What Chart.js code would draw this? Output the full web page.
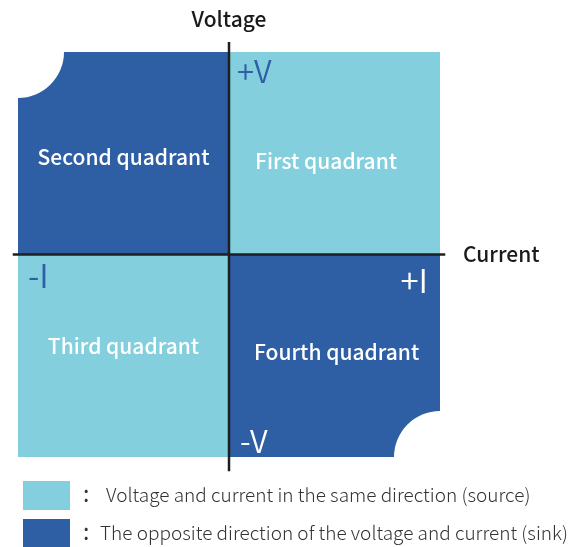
<!DOCTYPE html>
<html lang="en">
<head>
<meta charset="UTF-8">
<title>Four quadrants</title>
<script src="https://cdn.jsdelivr.net/npm/chart.js@4.4.0/dist/chart.umd.min.js"></script>
<style>
  body { margin: 0; background: #fff; }
</style>
</head>
<body>
<canvas id="quadChart" width="582" height="547"></canvas>
<script>
// quadrant data: sign of current (x) and voltage (y)
const quadrantNames = ['First quadrant', 'Second quadrant', 'Third quadrant', 'Fourth quadrant'];
const currentSign = [1, -1, -1, 1];
const voltageSign = [1, 1, -1, -1];
const axisTitles = ['Current', 'Voltage'];
const poleLabels = ['+V', '-V', '-I', '+I'];
const legendTexts = [
  'Voltage and current in the same direction (source)',
  'The opposite direction of the voltage and current (sink)'
];
// how far the axis lines run past the quadrants (in axis units)
const vAxisEnds = [-1.07, 1.05];
const hAxisEnds = [-1.025, 1.025];
// corners that are cut out
const cutCorners = [[-1, 1], [1, -1]];

const LIGHT = '#83CFDD';
const DARK = '#2E5EA4';
const FONT = '"Noto Sans CJK SC", "Noto Sans", sans-serif';

const datasets = [];

datasets.push({
  type: 'line',
  data: vAxisEnds.map(v => ({x: 0, y: v})),
  borderColor: '#1f1f1f',
  borderWidth: 2.5,
  pointRadius: 0,
  fill: false,
  clip: false,
  order: -3
});
datasets.push({
  type: 'line',
  data: hAxisEnds.map(v => ({x: v, y: 0})),
  borderColor: '#1f1f1f',
  borderWidth: 2.5,
  pointRadius: 0,
  fill: false,
  clip: false,
  order: -3
});

quadrantNames.forEach((name, i) => {
  const same = currentSign[i] * voltageSign[i] > 0;
  datasets.push({
    type: 'line',
    label: name,
    data: [{x: 0, y: voltageSign[i]}, {x: currentSign[i], y: voltageSign[i]}],
    borderWidth: 0,
    borderColor: 'rgba(0,0,0,0)',
    backgroundColor: same ? LIGHT : DARK,
    pointRadius: 0,
    fill: 'origin',
    order: 1
  });
});

// white quarter circles in two corners, clipped to the plot area
const cornerPlugin = {
  id: 'cornerCut',
  afterDatasetsDraw(chart) {
    const ctx = chart.ctx;
    const a = chart.chartArea;
    ctx.save();
    ctx.beginPath();
    ctx.rect(a.left, a.top, a.right - a.left, a.bottom - a.top);
    ctx.clip();
    ctx.fillStyle = '#fff';
    cutCorners.forEach(c => {
      ctx.beginPath();
      ctx.arc(chart.scales.x.getPixelForValue(c[0]), chart.scales.y.getPixelForValue(c[1]), 46, 0, Math.PI * 2);
      ctx.fill();
    });
    ctx.restore();
  }
};

const textPlugin = {
  id: 'quadText',
  afterDraw(chart) {
    const ctx = chart.ctx;
    const xs = chart.scales.x, ys = chart.scales.y;
    const px = v => xs.getPixelForValue(v);
    const py = v => ys.getPixelForValue(v);
    ctx.save();
    ctx.textBaseline = 'middle';

    // axis titles
    ctx.fillStyle = '#1a1a1a';
    ctx.font = '500 21px ' + FONT;
    ctx.textAlign = 'center';
    ctx.fillText(axisTitles[1], px(0), 19);
    ctx.textAlign = 'left';
    ctx.fillText(axisTitles[0], 463, py(0));

    // quadrant names
    ctx.fillStyle = '#fff';
    ctx.font = '500 21px ' + FONT;
    ctx.textAlign = 'center';
    const offs = [[0.46, 0.46], [-0.5, 0.48], [-0.5, -0.45], [0.51, -0.48]];
    quadrantNames.forEach((name, i) => {
      ctx.fillText(name, px(offs[i][0]), py(offs[i][1]));
    });

    // pole labels
    ctx.textAlign = 'left';
    ctx.font = '350 31px ' + FONT;
    ctx.fillStyle = DARK;
    ctx.fillText(poleLabels[0], px(0) + 8, py(1) + 19);
    ctx.fillStyle = '#fff';
    ctx.fillText(poleLabels[1], px(0) + 11, py(-1) - 16);
    ctx.font = '350 33px ' + FONT;
    ctx.fillStyle = DARK;
    ctx.fillText(poleLabels[2], px(-1) + 10, py(0) + 21);
    ctx.fillStyle = '#fff';
    ctx.textAlign = 'right';
    ctx.fillText(poleLabels[3], px(1) - 12, py(0) + 26);

    // legend
    const boxColors = [LIGHT, DARK];
    const boxTop = [481, 519];
    const textLeft = [106, 100];
    ctx.textAlign = 'left';
    legendTexts.forEach((t, i) => {
      ctx.fillStyle = boxColors[i];
      ctx.fillRect(23, boxTop[i], 47, 29);
      ctx.fillStyle = '#333';
      ctx.font = '23px ' + FONT;
      ctx.fillText(':', 83, boxTop[i] + 12);
      ctx.font = '300 19px ' + FONT;
      ctx.fillText(t, textLeft[i], boxTop[i] + 14);
    });
    ctx.restore();
  }
};

new Chart(document.getElementById('quadChart'), {
  data: {datasets},
  options: {
    responsive: false,
    animation: false,
    layout: {padding: {left: 18, right: 142, top: 52, bottom: 90}},
    scales: {
      x: {type: 'linear', min: -1, max: 1, display: false},
      y: {type: 'linear', min: -1, max: 1, display: false}
    },
    plugins: {
      legend: {display: false},
      tooltip: {enabled: false}
    }
  },
  plugins: [cornerPlugin, textPlugin]
});
</script>
</body>
</html>
